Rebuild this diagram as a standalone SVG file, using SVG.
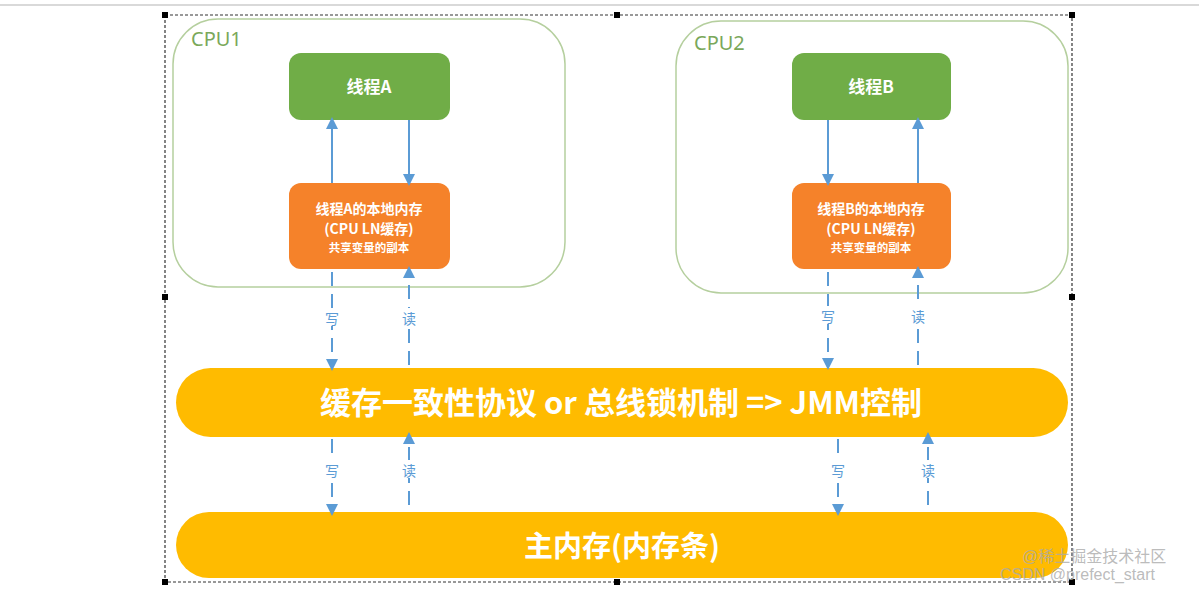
<svg xmlns="http://www.w3.org/2000/svg" width="1199" height="593" viewBox="0 0 1199 593">
<defs>
<style>
.cpu{fill:#fff;stroke:#b5cf9e;stroke-width:1.5}
.thr{fill:#70ad47}
.mem{fill:#f5822a}
.bar{fill:#ffbb00}
.t{font-family:"Noto Sans CJK SC","Noto Sans",sans-serif;font-weight:bold;fill:#fff;text-anchor:middle}
.cl{font-family:"Noto Sans","Noto Sans CJK SC",sans-serif;fill:#7aa85a;font-size:20px}
.lb{font-family:"Noto Sans CJK SC",sans-serif;fill:#5b9bd5;font-size:14px;text-anchor:middle}
.ln{stroke:#5b9bd5;stroke-width:2;fill:none}
.ds{stroke-dasharray:14,8}
.h{fill:#000}
</style>
<marker id="ar" markerWidth="12" markerHeight="12" refX="6" refY="6" orient="auto" markerUnits="userSpaceOnUse"><path d="M0,0L12,6L0,12z" fill="#5b9bd5"/></marker>
</defs>
<rect width="1199" height="593" fill="#fff"/>
<line x1="0" y1="5" x2="1199" y2="5" stroke="#ccc" stroke-width="1.5"/>
<g id="selection">
<rect x="165" y="15" width="907" height="567" fill="none" stroke="#333" stroke-width="1.2" stroke-dasharray="3,2"/>
<rect class="h" x="162" y="12" width="6" height="6"/><rect class="h" x="614" y="12" width="6" height="6"/><rect class="h" x="1069" y="12" width="6" height="6"/>
<rect class="h" x="162" y="294" width="6" height="6"/><rect class="h" x="1069" y="294" width="6" height="6"/>
<rect class="h" x="162" y="579" width="6" height="6"/><rect class="h" x="614" y="579" width="6" height="6"/><rect class="h" x="1069" y="579" width="6" height="6"/>
</g>
<g id="cpu1"><rect class="cpu" x="173" y="19" width="392" height="268" rx="45"/><text class="cl" x="191" y="46">CPU1</text></g>
<g id="cpu2"><rect class="cpu" x="676" y="21" width="392" height="272" rx="45"/><text class="cl" x="694" y="50">CPU2</text></g>
<g id="threadA"><rect class="thr" x="289" y="53" width="161" height="67" rx="12"/><text class="t" x="369" y="93" font-size="17">线程A</text></g>
<g id="memA"><rect class="mem" x="289" y="183" width="161" height="86" rx="12"/>
<text class="t" x="369" y="214" font-size="14">线程A的本地内存</text><text class="t" x="369" y="234" font-size="14">(CPU LN缓存)</text><text class="t" x="369" y="252" font-size="11.5">共享变量的副本</text></g>
<g id="threadB"><rect class="thr" x="792" y="53" width="159" height="67" rx="12"/><text class="t" x="871" y="93" font-size="17">线程B</text></g>
<g id="memB"><rect class="mem" x="792" y="183" width="159" height="86" rx="12"/>
<text class="t" x="871" y="214" font-size="14">线程B的本地内存</text><text class="t" x="871" y="234" font-size="14">(CPU LN缓存)</text><text class="t" x="871" y="252" font-size="11.5">共享变量的副本</text></g>
<g id="jmm"><rect class="bar" x="176" y="368" width="892" height="69" rx="34.5"/><text class="t" x="621" y="414" font-size="31">缓存一致性协议 or 总线锁机制 =&gt; JMM控制</text></g>
<g id="mainmem"><rect class="bar" x="176" y="512" width="892" height="66" rx="33"/><text class="t" x="622" y="557" font-size="29">主内存(内存条)</text></g>
<g id="connectors">
<line class="ln" x1="332" y1="183" x2="332" y2="123" marker-end="url(#ar)"/>
<line class="ln" x1="409" y1="120" x2="409" y2="180" marker-end="url(#ar)"/>
<line class="ln" x1="828" y1="120" x2="828" y2="180" marker-end="url(#ar)"/>
<line class="ln" x1="918" y1="183" x2="918" y2="123" marker-end="url(#ar)"/>
<line class="ln ds" x1="332" y1="272" x2="332" y2="365" marker-end="url(#ar)"/>
<line class="ln ds" x1="409" y1="365" x2="409" y2="272" marker-end="url(#ar)"/>
<line class="ln ds" x1="828" y1="272" x2="828" y2="364" marker-end="url(#ar)"/>
<line class="ln ds" x1="918" y1="365" x2="918" y2="272" marker-end="url(#ar)"/>
<line class="ln ds" x1="332" y1="439" x2="332" y2="510" marker-end="url(#ar)"/>
<line class="ln ds" x1="409" y1="505" x2="409" y2="438" marker-end="url(#ar)"/>
<line class="ln ds" x1="838" y1="439" x2="838" y2="510" marker-end="url(#ar)"/>
<line class="ln ds" x1="928" y1="505" x2="928" y2="438" marker-end="url(#ar)"/>
</g>
<g id="labels">
<rect x="322" y="308" width="20" height="18" fill="#fff"/><text class="lb" x="332" y="324">写</text>
<rect x="399" y="308" width="20" height="18" fill="#fff"/><text class="lb" x="409" y="324">读</text>
<rect x="818" y="306" width="20" height="18" fill="#fff"/><text class="lb" x="828" y="322">写</text>
<rect x="908" y="306" width="20" height="18" fill="#fff"/><text class="lb" x="918" y="322">读</text>
<rect x="322" y="460" width="20" height="18" fill="#fff"/><text class="lb" x="332" y="476">写</text>
<rect x="399" y="460" width="20" height="18" fill="#fff"/><text class="lb" x="409" y="476">读</text>
<rect x="828" y="460" width="20" height="18" fill="#fff"/><text class="lb" x="838" y="476">写</text>
<rect x="918" y="460" width="20" height="18" fill="#fff"/><text class="lb" x="928" y="476">读</text>
</g>
<g id="watermark" font-family="'Liberation Sans','Noto Sans CJK SC',sans-serif" font-size="16" fill="#aaa" fill-opacity="0.8">
<text x="1022" y="562">@稀土掘金技术社区</text>
<text x="1000" y="580">CSDN @prefect_start</text>
</g>
</svg>
